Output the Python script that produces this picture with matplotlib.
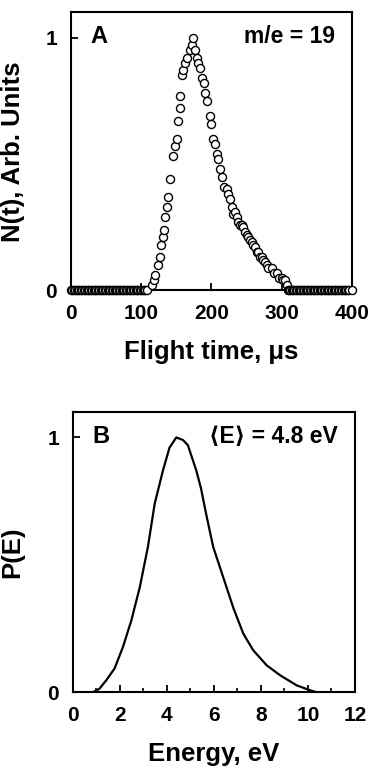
import matplotlib
matplotlib.use("Agg")
import matplotlib.pyplot as plt
from matplotlib.ticker import MultipleLocator

plt.rcParams['font.family'] = ['Liberation Sans', 'DejaVu Sans']
plt.rcParams['font.weight'] = 'bold'

# panel A: time-of-flight data, m/e = 19
base_left_t = [0, 2, 4, 6, 8, 10, 12, 14, 16, 18, 20, 22, 24, 26, 28, 30, 32, 34,
               36, 38, 40, 42, 44, 46, 48, 50, 52, 54, 56, 58, 60, 62, 64, 66, 68,
               70, 72, 74, 76, 78, 80, 82, 84, 86, 88, 90, 92, 94, 96, 98, 100,
               102, 104, 106]
peak_t = [107.6, 114.9, 118.0, 119.6, 124.0, 126.7, 128.0, 131.4, 132.4, 133.8,
          137.1, 138.5, 140.9, 145.6, 148.0, 150.4, 152.7, 155.2, 155.2, 157.5,
          159.8, 162.3, 164.7, 169.4, 171.8, 174.1, 176.5, 178.9, 181.2, 183.6,
          186.0, 189.3, 190.7, 193.2, 197.9, 198.9, 202.6, 205.0, 207.4, 209.7,
          212.1, 214.5, 217.8, 221.6, 223.5, 226.3, 228.7, 231.0, 233.0, 235.8,
          238.1, 240.6, 243.0, 245.3, 247.7, 250.0, 252.4, 254.5, 257.2, 259.5,
          261.9, 264.3, 266.5, 269.0, 271.5, 273.7, 276.0, 278.5, 281.0, 285.6,
          289.0, 292.7, 296.0, 299.8, 302.0, 304.5, 307.0, 309.3]
peak_n = [0.00, 0.02, 0.04, 0.06, 0.10, 0.13, 0.18, 0.21, 0.24, 0.29,
          0.33, 0.37, 0.44, 0.53, 0.57, 0.60, 0.67, 0.72, 0.77, 0.85,
          0.87, 0.90, 0.92, 0.95, 0.97, 1.00, 0.95, 0.92, 0.90, 0.88,
          0.84, 0.82, 0.78, 0.75, 0.69, 0.66, 0.60, 0.58, 0.54, 0.52,
          0.48, 0.45, 0.41, 0.40, 0.38, 0.36, 0.33, 0.30, 0.31, 0.29,
          0.27, 0.26, 0.26, 0.25, 0.23, 0.22, 0.21, 0.20, 0.19, 0.18,
          0.17, 0.15, 0.15, 0.13, 0.13, 0.12, 0.11, 0.10, 0.09, 0.09,
          0.07, 0.07, 0.05, 0.05, 0.04, 0.04, 0.02, 0.00]
base_right_t = [310, 312, 314, 316, 318, 320, 322, 324, 326, 328, 330, 332, 334,
                336, 338, 340, 342, 344, 346, 348, 350, 352, 354, 356, 358, 360,
                362, 364, 366, 368, 370, 372, 374, 376, 378, 380, 382, 384, 386,
                388, 390, 392, 394, 396, 400]

# panel B: energy distribution
energy = [0.85, 1.13, 1.42, 1.77, 2.13, 2.48, 2.84, 3.19, 3.48, 3.83, 4.11,
          4.40, 4.68, 4.89, 5.25, 5.45, 5.69, 5.97, 6.40, 6.83, 7.25, 7.67,
          8.24, 8.81, 9.52, 10.08, 10.37]
p_e = [0.0, 0.014, 0.047, 0.093, 0.178, 0.28, 0.41, 0.57, 0.74, 0.87, 0.96,
       1.0, 0.99, 0.97, 0.87, 0.80, 0.69, 0.57, 0.45, 0.33, 0.23, 0.165,
       0.106, 0.067, 0.027, 0.008, 0.0]

fig = plt.figure(figsize=(3.74, 7.70), dpi=100)
ax1 = fig.add_axes([0.190, 0.623, 0.751, 0.361])
ax2 = fig.add_axes([0.195, 0.101, 0.754, 0.364])

mk = dict(marker='o', ms=5.8, mfc='white', mec='black', mew=1.0,
          linestyle='none', clip_on=False, zorder=3)
ax1.plot(base_left_t, [0] * len(base_left_t), **mk)
ax1.plot(peak_t, peak_n, **mk)
ax1.plot(base_right_t, [0] * len(base_right_t), **mk)
ax1.set_xlim(0, 400)
ax1.set_ylim(0, 1.1)
ax1.set_xticks([0, 100, 200, 300, 400])
ax1.set_yticks([0, 1])
ax1.set_xlabel('Flight time, μs', fontsize=18.5, fontweight='bold', labelpad=12)
ax1.set_ylabel('N(t), Arb. Units', fontsize=18.5, fontweight='bold')
ax1.yaxis.set_label_coords(-0.164, 0.5)
ax1.text(0.07, 0.955, 'A', transform=ax1.transAxes, fontsize=17,
         fontweight='bold', va='top', ha='left')
ax1.text(0.94, 0.955, 'm/e = 19', transform=ax1.transAxes, fontsize=16.5,
         fontweight='bold', va='top', ha='right')

ax2.plot(energy, p_e, color='black', lw=1.6)
ax2.set_xlim(0, 12)
ax2.set_ylim(0, 1.1)
ax2.xaxis.set_major_locator(MultipleLocator(2))
ax2.xaxis.set_minor_locator(MultipleLocator(1))
ax2.set_yticks([0, 1])
ax2.set_xlabel('Energy, eV', fontsize=18.5, fontweight='bold', labelpad=12)
ax2.set_ylabel('P(E)', fontsize=18.5, fontweight='bold')
ax2.yaxis.set_label_coords(-0.174, 0.5)
ax2.text(0.07, 0.955, 'B', transform=ax2.transAxes, fontsize=17,
         fontweight='bold', va='top', ha='left')
ax2.text(0.94, 0.955, '⟨E⟩ = 4.8 eV', transform=ax2.transAxes, fontsize=16.5,
         fontweight='bold', va='top', ha='right')

for ax in (ax1, ax2):
    for s in ax.spines.values():
        s.set_linewidth(1.5)
    ax.tick_params(which='major', direction='in', length=5, width=1.3,
                   labelsize=15, pad=10)
    ax.tick_params(which='minor', direction='in', length=3, width=1.2)
    ax.tick_params(axis='y', which='both', left=True, right=False)
    ax.tick_params(axis='x', which='both', top=False)
    for lab in ax.get_xticklabels() + ax.get_yticklabels():
        lab.set_fontweight('bold')

fig.savefig('out.png', dpi=100)
